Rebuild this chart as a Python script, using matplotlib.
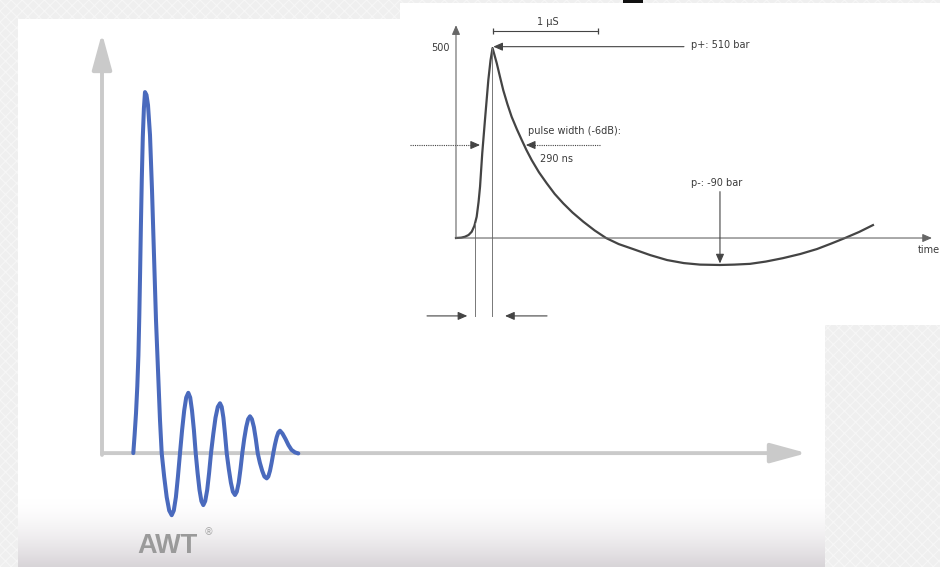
import numpy as np
import matplotlib.pyplot as plt
from matplotlib.patches import Rectangle
from matplotlib.colors import LinearSegmentedColormap

plt.rcParams['hatch.linewidth'] = 0.8

# AWT wave: time (arbitrary units), amplitude normalised to first peak = 100
awt_t = [31.3, 32.6, 34.0, 35.3, 36.4, 37.3, 38.1, 38.9, 39.8, 40.8, 41.9, 43.0,
         44.5, 46.0, 48.0, 50.0, 52.0, 54.0, 56.0, 58.0, 59.7,
         62.2, 64.7, 67.2, 69.7, 71.8, 73.9, 75.9, 78.0,
         80.1, 82.2, 84.2, 86.3, 88.2, 90.0, 91.9, 93.7,
         95.6, 97.5, 99.4, 101.3, 103.2, 105.2, 107.1, 109.0,
         111.3, 113.5, 115.8, 118.0, 119.7, 121.4, 123.0, 124.7,
         126.8, 128.9, 130.9, 133.0, 134.8, 136.7, 138.5, 140.3,
         142.2, 144.2, 146.1, 148.0, 149.9, 151.9, 153.8, 155.7,
         157.9, 160.2, 162.4, 164.7, 166.3, 168.0, 169.6, 171.3,
         173.0, 174.7, 176.3, 178.0, 180.5, 183.5, 186.5, 189.5, 193.0, 196.3]
awt_a = [0, 5, 11, 18.5, 27, 38, 50, 63, 76, 87.5, 95.5, 100,
         99.2, 96.4, 88.1, 72.9, 54.8, 36.8, 23.0, 9.1, 0,
         -6.6, -12.2, -15.9, -17.2, -15.9, -12.2, -6.6, 0,
         6.4, 11.8, 15.4, 16.7, 15.4, 11.8, 6.4, 0,
         -5.5, -10.2, -13.3, -14.4, -13.3, -10.2, -5.5, 0,
         5.3, 9.8, 12.8, 13.8, 12.8, 9.8, 5.3, 0,
         -4.4, -8.2, -10.7, -11.6, -10.7, -8.2, -4.4, 0,
         3.9, 7.2, 9.4, 10.2, 9.4, 7.2, 3.9, 0,
         -2.7, -4.9, -6.5, -7.0, -6.5, -4.9, -2.7, 0,
         2.4, 4.4, 5.7, 6.2, 5.4, 3.9, 2.2, 0.9, 0.2, -0.1]

# shock wave pulse: time in us, pressure in bar
pulse_t = [0.0, 0.05, 0.086, 0.12, 0.150, 0.175, 0.197, 0.215, 0.229, 0.250,
           0.276, 0.308, 0.329, 0.348,
           0.37, 0.388, 0.42, 0.45, 0.49, 0.53, 0.58, 0.626, 0.67, 0.721,
           0.79, 0.864, 0.94, 1.022, 1.11, 1.212, 1.32, 1.429,
           1.55, 1.686, 1.85, 2.010, 2.17, 2.324, 2.514, 2.65, 2.800,
           2.95, 3.114, 3.28, 3.438, 3.57, 3.705, 3.84, 3.971]
pulse_p = [0, 1, 3.4, 8, 16.6, 32, 56, 95, 135, 223,
           311, 416, 468, 500,
           478, 460, 423, 389, 352, 319, 286, 258, 232, 205,
           173, 144, 116, 91, 67, 43, 20, 0,
           -16, -29, -45, -58, -66, -70, -71, -70, -68,
           -62, -53, -42, -29, -15, 0, 16, 34]

W, H = 940, 567


def fig_box(x0, y0, x1, y1):
    # pixel box (top-left origin) -> figure fraction
    return [x0 / W, 1 - y1 / H, (x1 - x0) / W, (y1 - y0) / H]


fig = plt.figure(figsize=(W / 100, H / 100), dpi=100, facecolor='#efefef')

# background, panels
bg = fig.add_axes([0, 0, 1, 1])
bg.set_zorder(0)
bg.add_patch(Rectangle((0, 0), W, H, facecolor='#efefef', edgecolor='#f6f6f6',
                       hatch='xxx', lw=0))
bg.add_patch(Rectangle((18, 19), 807, 548, facecolor='white', lw=0))
grad = np.linspace(0, 1, 100) ** 1.6
cm = LinearSegmentedColormap.from_list('g', ['white', '#d8d4d8'])
bg.imshow(grad.reshape(-1, 1), cmap=cm, extent=(18, 825, 567, 497), aspect='auto',
          zorder=2)
bg.add_patch(Rectangle((623, 0), 20, 3, facecolor='#111111', lw=0, zorder=3))
bg.text(137, 546, 'AWT', fontsize=19.5, fontweight='bold', color='#9a9a9a',
        family='Liberation Sans', ha='left', va='center', zorder=4)
bg.text(204, 532, '®', fontsize=7, color='#a8a8a8', ha='left', va='center', zorder=4)
bg.set_xlim(0, W)
bg.set_ylim(H, 0)
bg.axis('off')

# main AWT chart
ax = fig.add_axes(fig_box(102, 30, 812, 530))
ax.set_zorder(1)
ax.patch.set_alpha(0)
ax.set_xlim(0, 710)
ax.set_ylim(-21.3, 117.2)
ax.axis('off')
big_arrow = dict(arrowstyle='-|>,head_length=1.1,head_width=0.3', mutation_scale=20,
                 lw=2.8, color='#cacaca', shrinkA=0, shrinkB=0)
ax.annotate('', xy=(0, 116.3), xytext=(0, -0.5), arrowprops=big_arrow,
            annotation_clip=False)
ax.annotate('', xy=(704.7, 0), xytext=(0, 0), arrowprops=big_arrow,
            annotation_clip=False)
ax.plot(awt_t, awt_a, color='#4a6abd', lw=2.9, solid_joinstyle='round',
        solid_capstyle='round', zorder=3)

# inset: pressure pulse
ax2 = fig.add_axes(fig_box(400, 3, 940, 325))
ax2.set_zorder(2)
ax2.set_facecolor('white')
ax2.set_xlim(-0.5333, 4.6095)
ax2.set_ylim(-228.9, 618.4)
ax2.set_xticks([])
ax2.set_yticks([])
for s in ax2.spines.values():
    s.set_visible(False)

ink = '#444444'
txt = dict(fontsize=7, color='#3a3a3a', va='center')
small = dict(arrowstyle='-|>,head_length=0.8,head_width=0.35', mutation_scale=7,
             lw=0.8, color=ink, shrinkA=0, shrinkB=0)

ax2.annotate('', xy=(0, 560), xytext=(0, 0), arrowprops=dict(small, color='#666666'))
ax2.annotate('', xy=(4.533, 0), xytext=(0, 0), arrowprops=dict(small, color='#666666'))
ax2.plot(pulse_t, pulse_p, color=ink, lw=1.6, solid_joinstyle='round')

ax2.text(-0.057, 500, '500', ha='right', **txt)
ax2.text(4.4, -31.6, 'time', ha='left', clip_on=True, **txt)

# 1 us bracket, starting at the peak
ax2.plot([0.352, 1.352], [545.5, 545.5], color=ink, lw=0.8, marker='|', ms=5, mew=0.9)
ax2.text(0.876, 569, '1 µS', ha='center', **txt)

# p+ and p- markers
ax2.annotate('', xy=(0.355, 503.5), xytext=(2.171, 503.5), arrowprops=small)
ax2.text(2.238, 508, 'p+: 510 bar', ha='left', **txt)
ax2.annotate('', xy=(2.514, -67), xytext=(2.514, 122), arrowprops=small)
ax2.text(2.238, 145.5, 'p-: -90 bar', ha='left', **txt)

# pulse width markers
ax2.plot([0.178, 0.178], [40, -205], color='#777777', lw=0.7)
ax2.plot([0.345, 0.345], [500, -205], color='#777777', lw=0.7)
ax2.annotate('', xy=(0.108, -205), xytext=(-0.276, -205), arrowprops=small)
ax2.annotate('', xy=(0.467, -205), xytext=(0.867, -205), arrowprops=small)

ax2.plot([-0.438, 0.2], [244.7, 244.7], color=ink, lw=0.8, ls=(0, (1, 1)))
ax2.annotate('', xy=(0.229, 244.7), xytext=(0.18, 244.7), arrowprops=small)
ax2.plot([1.371, 0.70], [244.7, 244.7], color=ink, lw=0.8, ls=(0, (1, 1)))
ax2.annotate('', xy=(0.665, 244.7), xytext=(0.715, 244.7), arrowprops=small)
ax2.text(0.689, 281.6, 'pulse width (-6dB):', ha='left', **txt)
ax2.text(0.800, 208, '290 ns', ha='left', **txt)

fig.savefig('out.png', dpi=100, facecolor=fig.get_facecolor())
